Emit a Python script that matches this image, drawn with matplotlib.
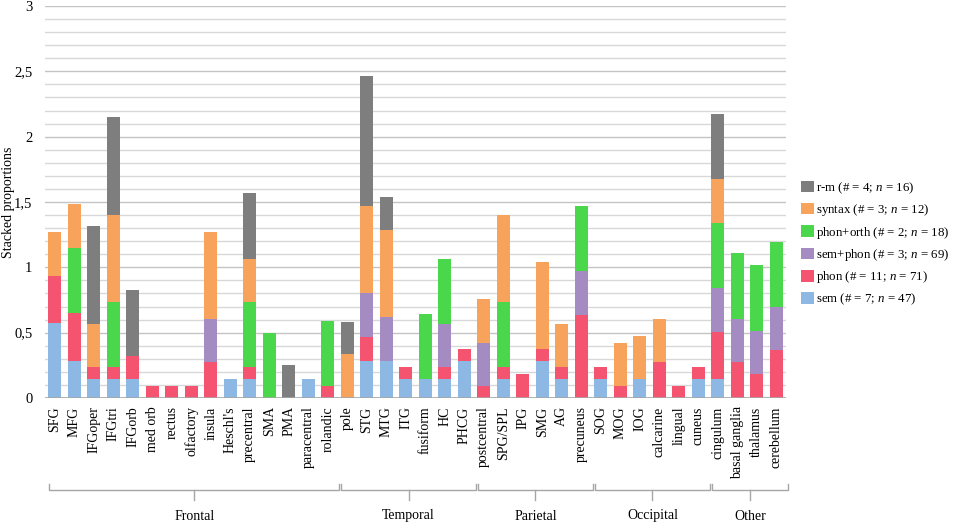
import matplotlib
matplotlib.use("Agg")
import matplotlib.pyplot as plt
import numpy as np
from matplotlib.transforms import blended_transform_factory
from matplotlib.patches import Patch

plt.rcParams['font.family'] = ['Liberation Serif', 'DejaVu Serif']
plt.rcParams['mathtext.fontset'] = 'custom'
plt.rcParams['mathtext.rm'] = 'Liberation Serif'
plt.rcParams['mathtext.it'] = 'Liberation Serif:italic'

categories = ["SFG", "MFG", "IFGoper", "IFGtri", "IFGorb", "med orb", "rectus", "olfactory",
              "insula", "Heschl's", "precentral", "SMA", "PMA", "paracentral", "rolandic",
              "pole", "STG", "MTG", "ITG", "fusiform", "HC", "PHCG",
              "postcentral", "SPG/SPL", "IPG", "SMG", "AG", "precuneus",
              "SOG", "MOG", "IOG", "calcarine", "lingual", "cuneus",
              "cingulum", "basal ganglia", "thalamus", "cerebellum"]

groups = ["Frontal", "Temporal", "Parietal", "Occipital", "Other"]
group_sizes = [15, 7, 6, 6, 4]

sem = [0.571, 0.286, 0.143, 0.143, 0.143, 0, 0, 0, 0, 0.143, 0.143, 0, 0, 0.143, 0,
       0, 0.286, 0.286, 0.143, 0.143, 0.143, 0.286,
       0, 0.143, 0, 0.286, 0.143, 0,
       0.143, 0, 0.143, 0, 0, 0.143,
       0.143, 0, 0, 0]
phon = [0.364, 0.364, 0.091, 0.091, 0.182, 0.091, 0.091, 0.091, 0.273, 0, 0.091, 0, 0, 0, 0.091,
        0, 0.182, 0, 0.091, 0, 0.091, 0.091,
        0.091, 0.091, 0.182, 0.091, 0.091, 0.636,
        0.091, 0.091, 0, 0.273, 0.091, 0.091,
        0.364, 0.273, 0.182, 0.364]
sem_phon = [0, 0, 0, 0, 0, 0, 0, 0, 0.333, 0, 0, 0, 0, 0, 0,
            0, 0.333, 0.333, 0, 0, 0.333, 0,
            0.333, 0, 0, 0, 0, 0.333,
            0, 0, 0, 0, 0, 0,
            0.333, 0.333, 0.333, 0.333]
phon_orth = [0, 0.5, 0, 0.5, 0, 0, 0, 0, 0, 0, 0.5, 0.5, 0, 0, 0.5,
             0, 0, 0, 0, 0.5, 0.5, 0,
             0, 0.5, 0, 0, 0, 0.5,
             0, 0, 0, 0, 0, 0,
             0.5, 0.5, 0.5, 0.5]
syntax = [0.333, 0.333, 0.333, 0.667, 0, 0, 0, 0, 0.667, 0, 0.333, 0, 0, 0, 0,
          0.333, 0.667, 0.667, 0, 0, 0, 0,
          0.333, 0.667, 0, 0.667, 0.333, 0,
          0, 0.333, 0.333, 0.333, 0, 0,
          0.333, 0, 0, 0]
r_m = [0, 0, 0.75, 0.75, 0.5, 0, 0, 0, 0, 0, 0.5, 0, 0.25, 0, 0,
       0.25, 1.0, 0.25, 0, 0, 0, 0,
       0, 0, 0, 0, 0, 0,
       0, 0, 0, 0, 0, 0,
       0.5, 0, 0, 0]

series = [
    ("sem (# = 7; $n$ = 47)", sem, "#8cb8e3"),
    ("phon (# = 11; $n$ = 71)", phon, "#f4546f"),
    ("sem+phon (# = 3; $n$ = 69)", sem_phon, "#a48cc2"),
    ("phon+orth (# = 2; $n$ = 18)", phon_orth, "#4bd74b"),
    ("syntax (# = 3; $n$ = 12)", syntax, "#f7a35c"),
    ("r-m (# = 4; $n$ = 16)", r_m, "#7e7e7e"),
]

FS = 10

fig = plt.figure(figsize=(9.6, 5.24), dpi=100)
ax = fig.add_axes([45/960, 1-398/524, 741/960, 392/524])

x = np.arange(len(categories))
bottom = np.zeros(len(categories))
for label, vals, col in series:
    v = np.array(vals, dtype=float)
    ax.bar(x, v, 0.667, bottom=bottom, color=col, label=label, zorder=3, linewidth=0)
    bottom += v

ax.set_xlim(-0.5, len(categories) - 0.5)
ax.set_ylim(0, 3)
for yv in np.arange(0.1, 3.01, 0.1):
    major = abs(yv * 2 - round(yv * 2)) < 1e-6
    ax.axhline(yv, color="#c4c4c4" if major else "#d8d8d8", lw=1.0, zorder=1)
ax.axhline(0, color="#a6a6a6", lw=1.2, zorder=4)

for s in ax.spines.values():
    s.set_visible(False)
ax.set_yticks([0, 0.5, 1, 1.5, 2, 2.5, 3])
ax.set_yticklabels(["0", "0,5", "1", "1,5", "2", "2,5", "3"], fontsize=FS + 0.5)
ax.tick_params(axis='y', length=0, pad=9)
ax.set_xticks(x)
ax.set_xticklabels(categories, rotation=90, fontsize=FS, va='top', ha='center')
ax.tick_params(axis='x', length=0, pad=6)
ax.set_ylabel("Stacked proportions", fontsize=FS, va='center')
ax.yaxis.set_label_coords(-(45 - 9) / 741, 0.5)

# group brackets
tr = blended_transform_factory(ax.transData, fig.transFigure)
y_end = 1 - 484/524
y_line = 1 - 490/524
y_tick = 1 - 500/524
y_text = 1 - 516/524
start = 0
for g, n in zip(groups, group_sizes):
    x0 = start - 0.5 + 0.2
    x1 = start + n - 0.5 + 0.1
    xm = (x0 + x1) / 2
    ax.plot([x0, x0, x1, x1], [y_end, y_line, y_line, y_end], color="#a6a6a6", lw=1.0,
            transform=tr, clip_on=False)
    ax.plot([xm, xm], [y_line, y_tick], color="#a6a6a6", lw=1.0, transform=tr, clip_on=False)
    ax.text(xm, y_text, g, transform=tr, ha='center', va='center', fontsize=FS)
    start += n

handles = [Patch(facecolor=c, label=l) for l, v, c in series][::-1]
fig.legend(handles=handles, loc='upper left', bbox_to_anchor=(796/960, 1-175/524),
           frameon=False, fontsize=9.3, handlelength=1.0, handleheight=1.0,
           handletextpad=0.15, labelspacing=0.5, borderaxespad=0)

fig.savefig("out.png", dpi=100)
